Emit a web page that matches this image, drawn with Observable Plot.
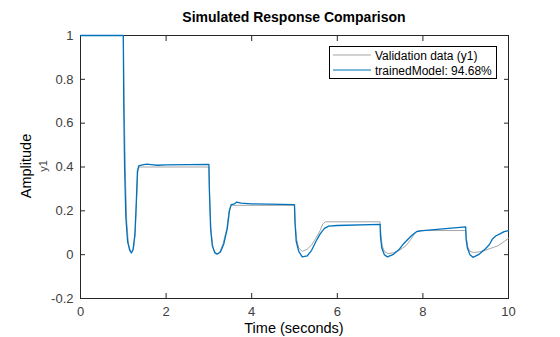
<!DOCTYPE html>
<html><head><meta charset="utf-8">
<script src="https://cdn.jsdelivr.net/npm/d3@7"></script>
<script src="https://cdn.jsdelivr.net/npm/@observablehq/plot@0.6"></script>
<style>body{margin:0;background:#fff;font-family:"Liberation Sans",Arial,sans-serif}</style>
</head><body><div id="chart"></div>
<script>
const xTicks = [0, 2, 4, 6, 8, 10];
const yTicks = [-0.2, 0, 0.2, 0.4, 0.6, 0.8, 1];
const seriesNames = ["Validation data (y1)", "trainedModel: 94.68%"];

const valTime = [0,1.0,1.02,1.05,1.08,1.12,1.17,1.2,1.24,1.28,1.31,1.34,1.37,3.0,3.02,3.05,3.1,3.17,3.25,3.33,3.42,3.47,3.52,5.0,5.02,5.05,5.1,5.18,5.3,5.4,5.5,5.6,5.66,5.72,7.0,7.02,7.05,7.1,7.18,7.3,7.45,7.6,7.72,7.82,7.9,9.0,9.02,9.05,9.1,9.18,9.3,9.45,9.6,9.75,9.9,10];
const valAmp  = [1,1,0.7,0.35,0.15,0.05,0.015,0.01,0.03,0.1,0.25,0.38,0.4,0.4,0.25,0.1,0.03,0.0,0.01,0.05,0.12,0.2,0.225,0.225,0.14,0.07,0.03,0.015,0.025,0.045,0.075,0.11,0.14,0.15,0.15,0.09,0.04,0.015,0.005,0.008,0.02,0.04,0.07,0.1,0.11,0.11,0.07,0.035,0.015,0.01,0.012,0.02,0.03,0.04,0.06,0.075];

const modTime = [0,1.0,1.01,1.03,1.06,1.1,1.15,1.19,1.23,1.27,1.3,1.33,1.36,1.45,1.55,1.7,1.8,2.0,3.0,3.01,3.04,3.08,3.14,3.2,3.27,3.35,3.43,3.48,3.52,3.6,3.65,3.75,4.0,5.0,5.01,5.04,5.1,5.18,5.3,5.4,5.5,5.6,5.7,5.8,6.0,7.0,7.01,7.04,7.1,7.17,7.3,7.45,7.55,7.65,7.75,7.85,8.0,9.0,9.01,9.04,9.1,9.17,9.3,9.45,9.55,9.62,9.7,9.8,9.9,10];
const modAmp  = [1,1,0.7,0.4,0.17,0.06,0.02,0.008,0.025,0.09,0.22,0.38,0.405,0.41,0.413,0.41,0.408,0.41,0.412,0.3,0.12,0.04,0.008,0.003,0.012,0.05,0.12,0.2,0.228,0.232,0.24,0.235,0.232,0.228,0.15,0.06,0.015,-0.01,-0.005,0.02,0.06,0.095,0.12,0.13,0.133,0.138,0.08,0.03,0.0,-0.01,0.0,0.025,0.05,0.07,0.09,0.105,0.11,0.127,0.07,0.03,0.0,-0.012,0.0,0.025,0.045,0.07,0.085,0.095,0.105,0.11];

const valData = valTime.map((t, i) => ({t, a: valAmp[i]}));
const modData = modTime.map((t, i) => ({t, a: modAmp[i]}));

const axisColor = "#262626";
const fmt = d => String(d);

const plot = Plot.plot({
  width: 560, height: 337,
  marginLeft: 80, marginRight: 52, marginTop: 35, marginBottom: 39,
  style: {fontFamily: "'Liberation Sans', Arial, sans-serif", fontSize: "13px", color: axisColor, background: "#fff"},
  x: {domain: [0, 10]},
  y: {domain: [-0.2, 1]},
  marks: [
    Plot.frame({stroke: axisColor, strokeWidth: 1}),
    Plot.axisX(xTicks, {anchor: "bottom", tickSize: -5, tickPadding: 13, tickFormat: fmt, label: null, color: "#404040", stroke: axisColor, fontSize: 13}),
    Plot.axisX(xTicks, {anchor: "top", tickSize: -5, tickFormat: () => "", label: null, stroke: axisColor}),
    Plot.axisY(yTicks, {anchor: "left", tickSize: -5, tickPadding: 12, tickFormat: fmt, label: null, color: "#404040", stroke: axisColor, fontSize: 13}),
    Plot.axisY(yTicks, {anchor: "right", tickSize: -5, tickFormat: () => "", label: null, stroke: axisColor}),
    Plot.line(valData, {x: "t", y: "a", stroke: "#a6a6a6", strokeWidth: 1}),
    Plot.line(modData, {x: "t", y: "a", stroke: "#0072bd", strokeWidth: 1.3})
  ]
});

const svg = d3.select(plot);
const addText = (x, y, txt, opts) => {
  const el = svg.append("text").attr("x", x).attr("y", y).text(txt);
  Object.entries(opts).forEach(([k, v]) => el.attr(k, v));
  return el;
};
addText(294, 22, "Simulated Response Comparison", {"text-anchor": "middle", "font-weight": "bold", "font-size": 14, fill: "#000"});
addText(294, 332.5, "Time (seconds)", {"text-anchor": "middle", "font-size": 14.5, fill: "#000"});
addText(0, 0, "Amplitude", {transform: "translate(31,166) rotate(-90)", "text-anchor": "middle", "font-size": 14.5, fill: "#000"});
addText(0, 0, "y1", {transform: "translate(47,166) rotate(-90)", "text-anchor": "middle", "font-size": 11, fill: "#404040"});

const lg = svg.append("g");
lg.append("rect").attr("x", 329.5).attr("y", 46.5).attr("width", 167).attr("height", 32)
  .attr("fill", "#fff").attr("stroke", "#000").attr("stroke-width", 1);
const legendColors = ["#a6a6a6", "#0072bd"];
seriesNames.forEach((name, i) => {
  const yy = 55 + i * 15;
  lg.append("path").attr("d", `M333,${yy}H371`)
    .style("stroke", legendColors[i]).style("stroke-width", "1px").style("fill", "none");
  lg.append("text").attr("x", 375).attr("y", yy + 4.5).attr("text-anchor", "start")
    .attr("font-size", 12).attr("fill", "#000").text(name);
});

document.getElementById("chart").appendChild(plot);
</script></body></html>
